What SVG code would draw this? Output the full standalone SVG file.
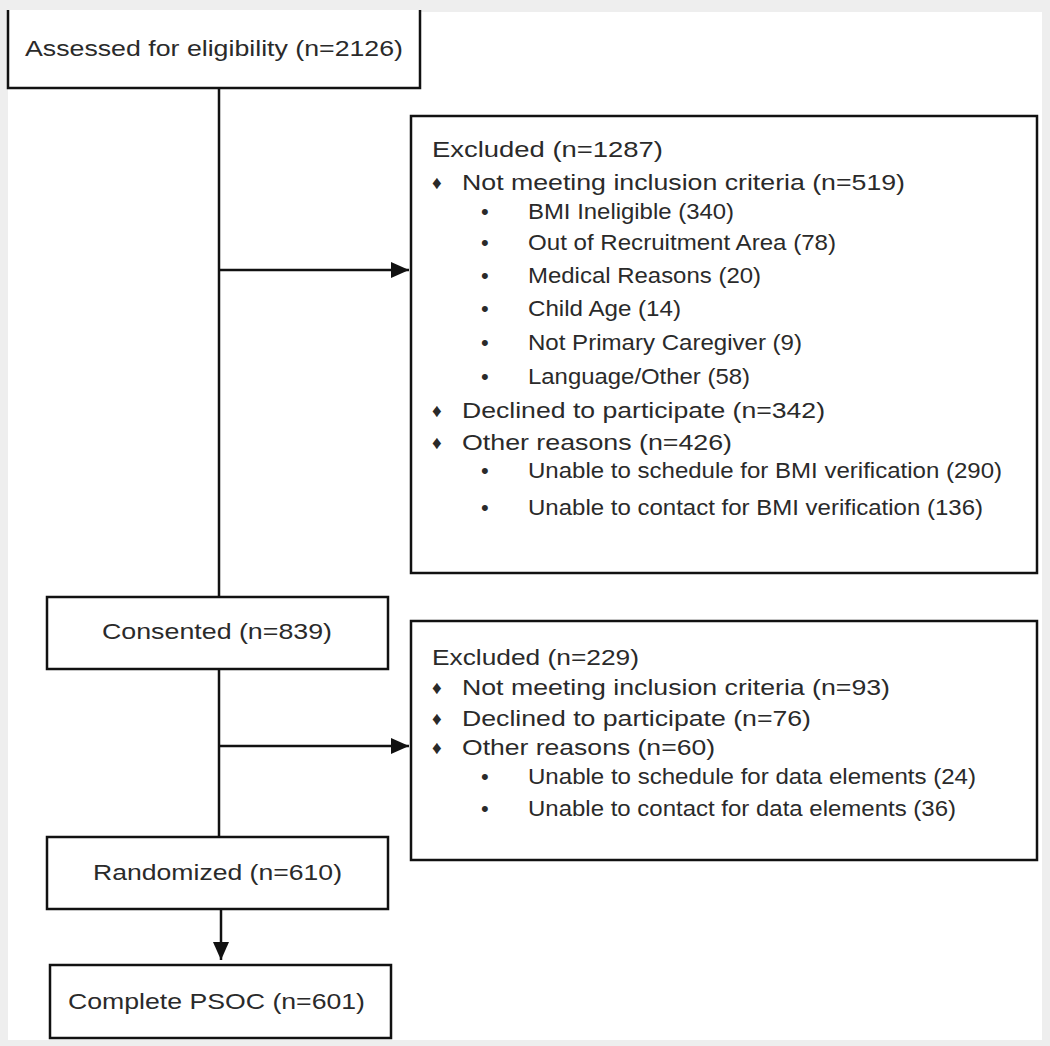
<svg xmlns="http://www.w3.org/2000/svg" width="1050" height="1046" viewBox="0 0 1050 1046">
<style>
.box{fill:#fff;stroke:#111;stroke-width:2.5}
.t{font-family:"Liberation Sans",Arial,sans-serif;font-size:22px;fill:#2a2a2a}
.c{text-anchor:middle}
.b{font-size:19px}
.ln{stroke:#111;stroke-width:2.5;fill:none}
</style>
<defs>
<marker id="ah2" markerWidth="18" markerHeight="16" refX="18" refY="8" orient="auto" markerUnits="userSpaceOnUse" viewBox="0 0 18 16">
<path d="M0,0 L18,8 L0,16 z" fill="#111"/>
</marker>
</defs>
<rect x="0" y="0" width="1050" height="1046" fill="#eeeeee"/>
<rect x="8" y="12" width="1034" height="1028" fill="#ffffff"/>
<g id="connectors">
<line class="ln" x1="219" y1="88" x2="219" y2="597"/>
<line class="ln" x1="219" y1="270" x2="409" y2="270" marker-end="url(#ah2)"/>
<line class="ln" x1="219" y1="669" x2="219" y2="837"/>
<line class="ln" x1="219" y1="746" x2="409" y2="746" marker-end="url(#ah2)"/>
<line class="ln" x1="221" y1="909" x2="221" y2="960" marker-end="url(#ah2)"/>
</g>
<g id="assessed">
<path class="box" d="M8,10 L8,88 L420,88 L420,10"/>
<text class="t" x="25" y="56" textLength="378" lengthAdjust="spacingAndGlyphs">Assessed for eligibility (n=2126)</text>
</g>
<g id="excluded1">
<rect class="box" x="411" y="116" width="626" height="457"/>
<text class="t" x="432" y="157" textLength="231" lengthAdjust="spacingAndGlyphs">Excluded  (n=1287)</text>
<text class="t b" x="432" y="189">♦</text><text class="t" x="462" y="190" textLength="443" lengthAdjust="spacingAndGlyphs">Not meeting inclusion criteria (n=519)</text>
<text class="t" x="481" y="219">•</text><text class="t" x="528" y="219" textLength="206" lengthAdjust="spacingAndGlyphs">BMI Ineligible (340)</text>
<text class="t" x="481" y="250">•</text><text class="t" x="528" y="250" textLength="308" lengthAdjust="spacingAndGlyphs">Out of Recruitment Area (78)</text>
<text class="t" x="481" y="283">•</text><text class="t" x="528" y="283" textLength="233" lengthAdjust="spacingAndGlyphs">Medical Reasons (20)</text>
<text class="t" x="481" y="316">•</text><text class="t" x="528" y="316" textLength="153" lengthAdjust="spacingAndGlyphs">Child Age (14)</text>
<text class="t" x="481" y="350">•</text><text class="t" x="528" y="350" textLength="274" lengthAdjust="spacingAndGlyphs">Not Primary Caregiver (9)</text>
<text class="t" x="481" y="384">•</text><text class="t" x="528" y="384" textLength="222" lengthAdjust="spacingAndGlyphs">Language/Other (58)</text>
<text class="t b" x="432" y="417">♦</text><text class="t" x="462" y="418" textLength="363" lengthAdjust="spacingAndGlyphs">Declined to participate (n=342)</text>
<text class="t b" x="432" y="449">♦</text><text class="t" x="462" y="450" textLength="270" lengthAdjust="spacingAndGlyphs">Other reasons (n=426)</text>
<text class="t" x="481" y="478">•</text><text class="t" x="528" y="478" textLength="474" lengthAdjust="spacingAndGlyphs">Unable to schedule for BMI verification (290)</text>
<text class="t" x="481" y="515">•</text><text class="t" x="528" y="515" textLength="455" lengthAdjust="spacingAndGlyphs">Unable to contact for BMI verification (136)</text>
</g>
<g id="consented">
<rect class="box" x="47" y="597" width="341" height="72"/>
<text class="t" x="102" y="639" textLength="230" lengthAdjust="spacingAndGlyphs">Consented (n=839)</text>
</g>
<g id="excluded2">
<rect class="box" x="411" y="621" width="626" height="239"/>
<text class="t" x="432" y="665" textLength="207" lengthAdjust="spacingAndGlyphs">Excluded  (n=229)</text>
<text class="t b" x="432" y="694">♦</text><text class="t" x="462" y="695" textLength="428" lengthAdjust="spacingAndGlyphs">Not meeting inclusion criteria (n=93)</text>
<text class="t b" x="432" y="725">♦</text><text class="t" x="462" y="726" textLength="349" lengthAdjust="spacingAndGlyphs">Declined to participate (n=76)</text>
<text class="t b" x="432" y="754">♦</text><text class="t" x="462" y="755" textLength="253" lengthAdjust="spacingAndGlyphs">Other reasons (n=60)</text>
<text class="t" x="481" y="784">•</text><text class="t" x="528" y="784" textLength="448" lengthAdjust="spacingAndGlyphs">Unable to schedule for data elements (24)</text>
<text class="t" x="481" y="816">•</text><text class="t" x="528" y="816" textLength="428" lengthAdjust="spacingAndGlyphs">Unable to contact for data elements (36)</text>
</g>
<g id="randomized">
<rect class="box" x="47" y="837" width="341" height="72"/>
<text class="t" x="93" y="880" textLength="249" lengthAdjust="spacingAndGlyphs">Randomized (n=610)</text>
</g>
<g id="complete">
<rect class="box" x="50" y="965" width="341" height="73"/>
<text class="t" x="68" y="1009" textLength="297" lengthAdjust="spacingAndGlyphs">Complete PSOC (n=601)</text>
</g>
</svg>
